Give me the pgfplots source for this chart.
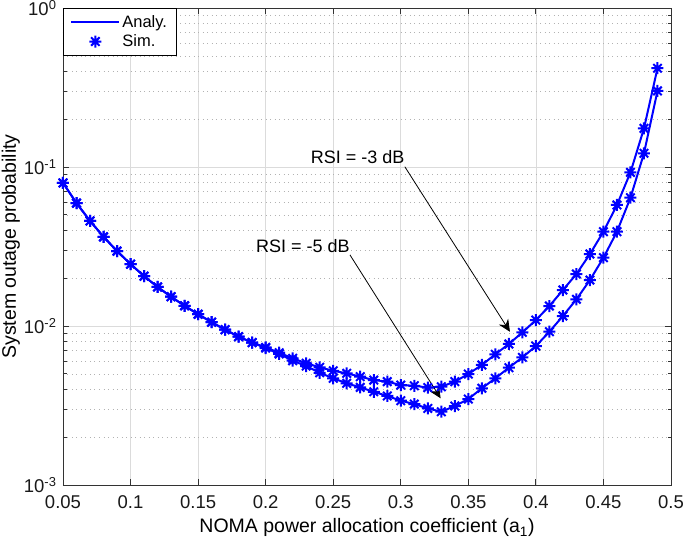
\documentclass[border=0pt]{standalone}
\usepackage{fontspec}
\setmainfont{Liberation Sans}
\usepackage{pgfplots}
\usepackage{pgfplotstable}
\pgfplotsset{compat=1.18}
\usetikzlibrary{arrows.meta}

\pgfdeclareplotmark{ast8}{%
  \pgfpathmoveto{\pgfqpoint{-\pgfplotmarksize}{0pt}}\pgfpathlineto{\pgfqpoint{\pgfplotmarksize}{0pt}}%
  \pgfpathmoveto{\pgfqpoint{0pt}{-\pgfplotmarksize}}\pgfpathlineto{\pgfqpoint{0pt}{\pgfplotmarksize}}%
  \pgfpathmoveto{\pgfqpoint{-0.7071\pgfplotmarksize}{-0.7071\pgfplotmarksize}}\pgfpathlineto{\pgfqpoint{0.7071\pgfplotmarksize}{0.7071\pgfplotmarksize}}%
  \pgfpathmoveto{\pgfqpoint{-0.7071\pgfplotmarksize}{0.7071\pgfplotmarksize}}\pgfpathlineto{\pgfqpoint{0.7071\pgfplotmarksize}{-0.7071\pgfplotmarksize}}%
  \pgfusepathqstroke}

\pgfplotsset{
  linelegend/.style={legend image code/.code={\draw[##1] (0pt,0pt) -- (48pt,0pt);}},
  marklegend/.style={legend image code/.code={\draw[##1] plot coordinates {(24pt,0pt)};}},
}

\pgfplotstableread{
a p3 p5
0.05 0.0794 0.0794
0.06 0.0593 0.0593
0.07 0.0458 0.0458
0.08 0.0364 0.0364
0.09 0.0296 0.0296
0.10 0.0245 0.0245
0.11 0.0206 0.0206
0.12 0.0176 0.0176
0.13 0.01528 0.01528
0.14 0.01340 0.01340
0.15 0.01186 0.01186
0.16 0.01057 0.01057
0.17 0.00948 0.00948
0.18 0.00857 0.00857
0.19 0.00787 0.00787
0.20 0.00734 0.00727
0.21 0.00679 0.00667
0.22 0.00626 0.00605
0.23 0.00583 0.00560
0.24 0.00550 0.00508
0.25 0.00523 0.00469
0.26 0.00504 0.00436
0.27 0.00480 0.00411
0.28 0.00457 0.00386
0.29 0.00447 0.00363
0.30 0.00425 0.00339
0.31 0.00421 0.00323
0.32 0.00410 0.00303
0.33 0.00415 0.00289
0.34 0.00447 0.00314
0.35 0.00499 0.00347
0.36 0.00569 0.00406
0.37 0.00664 0.00469
0.38 0.00771 0.00547
0.39 0.00912 0.00635
0.40 0.0109 0.00748
0.41 0.01336 0.00921
0.42 0.01684 0.01156
0.43 0.02123 0.01472
0.44 0.02836 0.01946
0.45 0.0392 0.0269
0.46 0.0577 0.0392
0.47 0.0926 0.0641
0.48 0.175 0.122
0.49 0.418 0.301
}\data

\begin{document}
\begin{tikzpicture}
\path[use as bounding box] (-63pt,-59pt) rectangle (622pt,485pt);
\begin{axis}[
  at={(0,0)}, anchor=south west,
  scale only axis, width=608pt, height=477pt,
  ymode=log, xmin=0.05, xmax=0.5, ymin=1e-3, ymax=1,
  clip=false,
  xtick={0.05,0.1,0.15,0.2,0.25,0.3,0.35,0.4,0.45,0.5},
  xticklabels={0.05,0.1,0.15,0.2,0.25,0.3,0.35,0.4,0.45,0.5},
  ytick={1e-3,1e-2,1e-1,1},
  yticklabels={10\textsuperscript{-3},10\textsuperscript{-2},10\textsuperscript{-1},10\textsuperscript{0}},
  minor ytick={2e-3,3e-3,4e-3,5e-3,6e-3,7e-3,8e-3,9e-3,2e-2,3e-2,4e-2,5e-2,6e-2,7e-2,8e-2,9e-2,2e-1,3e-1,4e-1,5e-1,6e-1,7e-1,8e-1,9e-1},
  xmajorgrids, ymajorgrids, yminorgrids,
  major grid style={line width=0.7pt, color=black!14},
  minor grid style={line width=0.7pt, color=black!30, dash pattern=on 1pt off 3.5pt},
  tick align=inside, tick pos=both,
  major tick length=6pt, minor tick length=3.5pt,
  axis line style={color=black!80, line width=0.8pt},
  tick style={color=black!80, line width=0.8pt},
  ticklabel style={font=\fontsize{18.5}{21}\selectfont, color=black!90},
  xticklabel style={yshift=-7pt},
  yticklabel style={xshift=-3pt},
  xlabel={NOMA power allocation coefficient (a\textsubscript{1})},
  ylabel={System outage probability},
  label style={font=\fontsize{19.5}{23}\selectfont},
  xlabel style={at={(axis description cs:0.5,-0.090)}, anchor=center, inner sep=0pt},
  ylabel style={at={(axis description cs:-0.0857,0.5)}, anchor=center, inner sep=0pt},
  legend style={at={(0,1)}, anchor=north west, draw=black, line width=0.7pt, fill=white,
    font=\fontsize{16.5}{19}\selectfont, inner xsep=7pt, inner ysep=5pt, row sep=2pt,
    cells={anchor=west}},
  legend cell align=left,
  linelegend,
]
\addplot[blue, line width=2pt] table[x=a,y=p3] {\data};
\addlegendentry{Analy.}
\addplot[blue, only marks, mark=ast8, mark size=6pt, line width=2pt, marklegend] table[x=a,y=p3] {\data};
\addlegendentry{Sim.}
\addplot[blue, line width=2pt, forget plot] table[x=a,y=p5] {\data};
\addplot[blue, only marks, mark=ast8, mark size=6pt, line width=2pt, forget plot] table[x=a,y=p5] {\data};

\node[font=\fontsize{18}{21}\selectfont] at (axis cs:0.268,0.1156) {RSI = -3 dB};
\node[font=\fontsize{18}{21}\selectfont] at (axis cs:0.2276,0.0319) {RSI = -5 dB};
\draw[line width=0.8pt, -{Stealth[length=12pt, width=11pt, inset=4pt]}] (axis cs:0.303,0.1004) -- (axis cs:0.3808,0.0092);
\draw[line width=0.8pt, -{Stealth[length=12pt, width=11pt, inset=4pt]}] (axis cs:0.2624,0.028) -- (axis cs:0.3295,0.00351);
\end{axis}
\end{tikzpicture}
\end{document}
